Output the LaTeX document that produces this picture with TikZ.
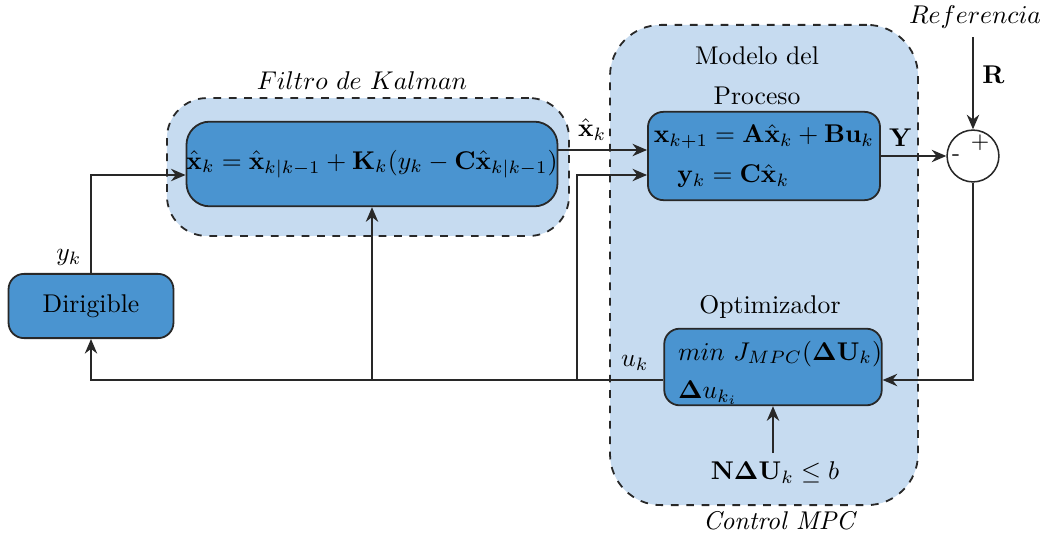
\documentclass[tikz,border=0pt]{standalone}
\usepackage{amsmath,amssymb,bm}
\usetikzlibrary{positioning,arrows.meta,calc}
\definecolor{cGrupo}{RGB}{198,219,240}
\definecolor{cBloque}{RGB}{74,148,208}
\definecolor{cEdge}{RGB}{40,40,40}
\tikzset{
  bloque/.style={
    rectangle, rounded corners=6pt, draw=cEdge, line width=0.7pt,
    fill=cBloque, text=black, inner sep=0pt,
  },
  grupo/.style={
    rectangle, draw=cEdge, dashed, line width=0.7pt, fill=cGrupo,
    inner sep=0pt,
  },
  sumador/.style={
    circle, draw=cEdge, line width=0.6pt, fill=white,
    minimum size=0.71cm, inner sep=0pt,
  },
  arr/.style={-{Stealth[length=2mm,width=1.7mm]}, line width=0.7pt, draw=cEdge},
}

\begin{document}
\begin{tikzpicture}[x=0.0137cm, y=-0.0137cm]
\useasboundingbox (0,0) rectangle (1043,533);

% regiones
\node[grupo, rounded corners=0.55cm, minimum width=5.51cm, minimum height=1.89cm] (gkalman) at (368,167) {};
\node[grupo, rounded corners=0.7cm, minimum width=4.22cm, minimum height=6.58cm] (gmpc) at (764,265) {};

\node (tkalman) at (362,81) {$Filtro\ de\ Kalman$};
\node (tmpc) at (780,521) {\textit{Control MPC}};
\node (tmodelo) at (757,56) {Modelo del};
\node (tproceso) at (757,96) {Proceso};
\node (toptim) at (770,307) {Optimizador};

% bloques
\node[bloque, minimum width=2.26cm, minimum height=0.88cm] (dirig) at (91,306) {Dirigible};

\node[bloque, minimum width=5cm, minimum height=1.16cm, rounded corners=9pt] (kalman) at (372,164)
  {$\hat{\mathbf{x}}_k = \hat{\mathbf{x}}_{k|k-1} + \mathbf{K}_k(y_k - \mathbf{C}\hat{\mathbf{x}}_{k|k-1})$};

\node[bloque, minimum width=3.18cm, minimum height=1.21cm, align=left] (modelo) at (764,156)
  {$\mathbf{x}_{k+1} = \mathbf{A}\hat{\mathbf{x}}_k + \mathbf{B}\mathbf{u}_k$\\[1.3mm]
   \hspace{3.2mm}$\mathbf{y}_k = \mathbf{C}\hat{\mathbf{x}}_k$};

\node[bloque, minimum height=1.05cm, text width=2.6cm, inner xsep=0.19cm, align=left] (optim) at (773,367)
  {\hspace{0.7mm}$min\ J_{MPC}(\bm{\Delta}\mathbf{U}_k)$\\[1mm]
   $\bm{\Delta} u_{k_i}$};

\node[sumador] (sum) at (973,156) {};
\node[font=\small] at ($(sum)+(7,-13)$) {+};
\node[font=\small] at ($(sum)+(-17,2)$) {-};

\node (ref) at (975,17) {$Referencia$};
\node (restr) at (775,473) {$\mathbf{N}\bm{\Delta}\mathbf{U}_k \leq b$};

% conexiones
\coordinate (uk) at ($(optim.west)+(0,13)$);
\coordinate (ue) at ($(optim.east)+(0,13)$);

\draw[arr] (dirig.north) |- ($(kalman.west)+(0,11)$)
  node[pos=0.08, left] {$y_k$};
\draw[arr] ($(kalman.east)+(0,-14)$) coordinate (xo) -- (xo -| modelo.west)
  node[pos=0.38, above] {$\hat{\mathbf{x}}_k$};
\draw[arr] (uk) -| (dirig.south) node[pos=0.025, above] {$u_k$};
\draw[arr] (uk -| kalman.south) -- (kalman.south);
\draw[arr] (uk -| 577,0) |- ($(modelo.west)+(0,19)$);
\draw[arr] (modelo.east) -- (sum.west) node[pos=0.3, above] {$\mathbf{Y}$};
\draw[arr] (ref.south -| sum.north) -- (sum.north) node[pos=0.4, right] {$\mathbf{R}$};
\draw[arr] (sum.south) |- (ue);
\draw[arr] (restr.north -| optim.south) -- (optim.south);

\end{tikzpicture}
\end{document}
